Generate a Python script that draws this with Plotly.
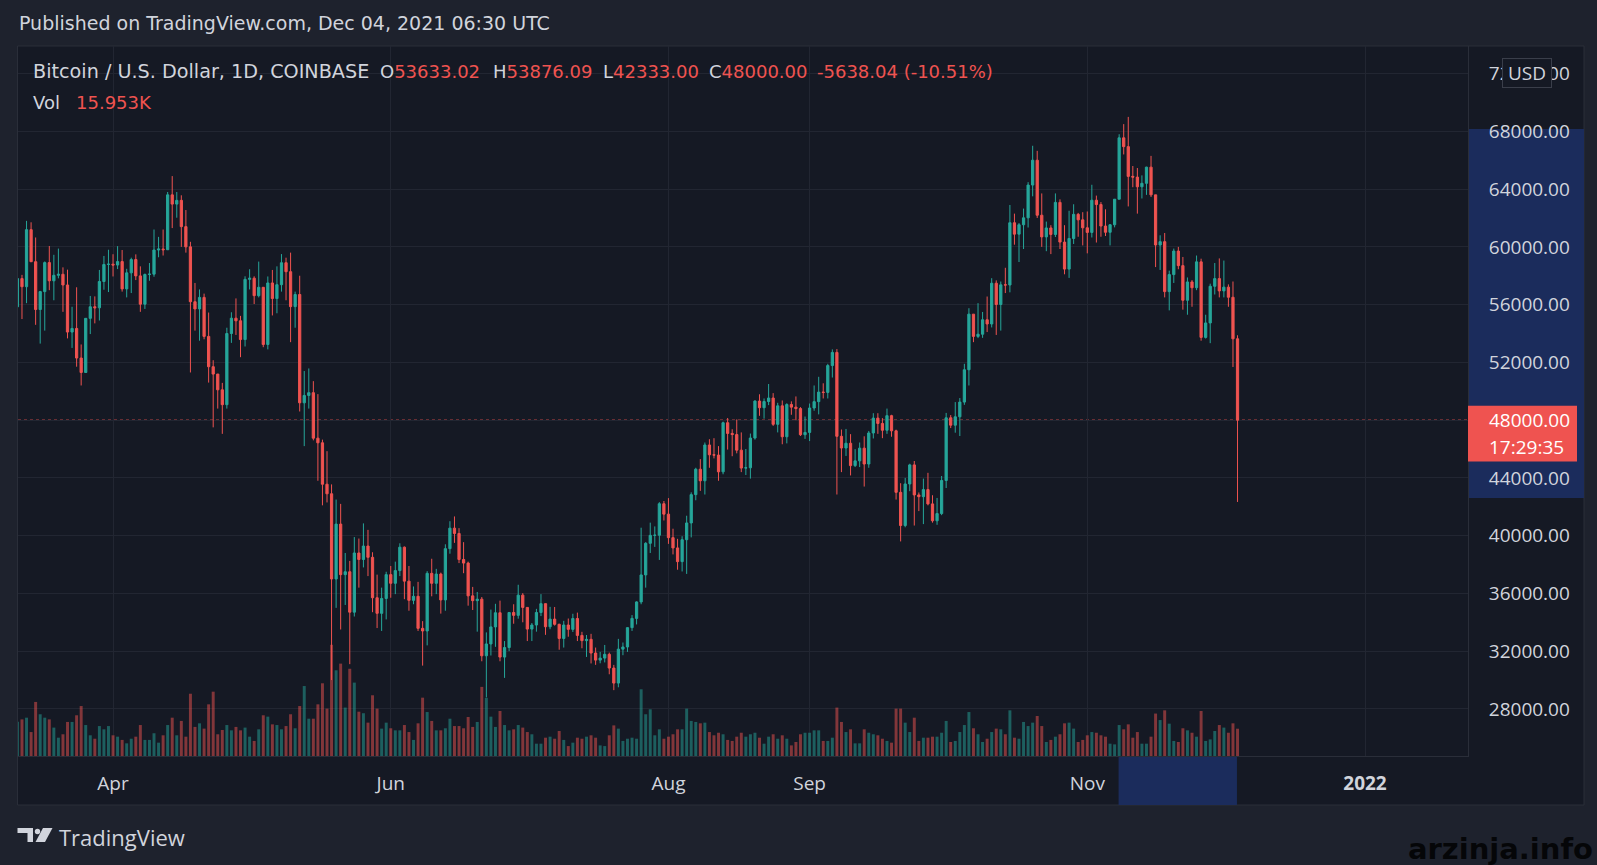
import pandas as pd
import plotly.graph_objects as go

# ---- data: BTC/USD daily (Coinbase), 11 Mar 2021 -> 04 Dec 2021 ----
dates = pd.date_range("2021-03-11", "2021-12-04", freq="D")

first_open = 55850

closes = [
    # Mar 11-31
    57800, 57240, 61190, 58970, 55660, 56900, 58910, 57650, 58030, 58100, 57360,
    54100, 54350, 52300, 51300, 55050, 55850, 55780, 57600, 58780, 58800,
    # Apr
    58740, 58980, 57090, 58200, 59120, 57990, 56030, 58090, 58110, 59780,
    59850, 59800, 63600, 62960, 63220, 61400, 60000, 56200, 55700, 56500,
    53800, 51700, 51190, 50100, 49070, 54000, 55060, 54880, 53580, 57750,
    # May
    57830, 56620, 57200, 53240, 57500, 56420, 57380, 58900, 58280, 55860,
    56700, 49200, 49710, 49900, 46750, 46430, 43560, 42900, 37000, 40800,
    37300, 37500, 34700, 38800, 38350, 39280, 38500, 35700, 34620, 35650, 37300,
    # Jun
    36700, 37580, 39200, 36850, 35520, 35800, 33580, 33400, 37390, 36700,
    37340, 35550, 39100, 40520, 40150, 38350, 38100, 35830, 35500, 35600,
    31680, 32500, 33680, 34660, 31590, 32250, 34680, 34480, 35880, 35030,
    # Jul
    33530, 33810, 34680, 35290, 33690, 34220, 33860, 32880, 33810, 33510,
    34260, 33090, 32730, 32820, 31870, 31380, 31520, 31780, 30830, 29790,
    32140, 32290, 33630, 34270, 35410, 37280, 39470, 40020, 40030, 42210, 41490,
    # Aug
    39860, 39150, 38200, 39720, 40880, 42840, 44600, 43800, 46280, 45600,
    45580, 44420, 47820, 47080, 47000, 45920, 44680, 44700, 46760, 49320,
    48860, 49290, 49530, 47710, 48990, 46850, 49080, 48900, 48800, 46990, 47150,
    # Sep
    48840, 49280, 49940, 49920, 51780, 52690, 46880, 46070, 46400, 44850,
    45180, 46060, 44960, 47110, 48140, 47770, 47300, 48310, 47260, 43000,
    40700, 43580, 44900, 42820, 42700, 43190, 42200, 41030, 41530, 43820,
    # Oct
    48160, 47650, 48230, 49250, 51490, 55340, 53800, 53950, 54950, 54660,
    57480, 56010, 57370, 57360, 61670, 60880, 61530, 62010, 64280, 66000,
    62190, 60690, 61310, 60860, 63080, 60330, 58460, 60580, 62250, 61870, 61320,
    # Nov
    61000, 63230, 62930, 61440, 61010, 61530, 63300, 67550, 66940, 64880,
    64830, 64160, 64400, 65520, 63600, 60130, 60360, 56900, 58080, 59710,
    58700, 56300, 57570, 57170, 58960, 53730, 54730, 57270, 57800, 56950,
    # Dec
    57210, 56510, 53633.02, 48000.00,
]

highs = [
    58150, 58060, 61800, 61700, 60650, 56950, 58990, 60060, 59450, 59880, 58580,
    58420, 55850, 57200, 53240, 55070, 56600, 56570, 58400, 59370, 59800,
    59490, 60050, 59780, 58480, 59250, 59480, 58650, 58150, 58880, 61200,
    60690, 61200, 63800, 64900, 63800, 63570, 62550, 60350, 57500, 57050,
    56760, 55450, 52150, 51200, 50580, 54400, 55470, 56430, 55220, 57960,
    58450, 57960, 58980, 57220, 57950, 58400, 58650, 59500, 59250, 59600,
    56900, 58000, 51400, 51580, 50700, 49800, 46650, 45850, 43550, 42500,
    42200, 38800, 38250, 39900, 39800, 40850, 40400, 38850, 37300, 36400, 37500,
    37900, 38200, 39470, 39250, 37900, 36480, 36800, 34080, 37540, 38400,
    37700, 37440, 39400, 41000, 41330, 40520, 39550, 38200, 36450, 36100,
    35750, 33300, 34880, 35280, 35500, 32700, 34700, 35250, 36600, 36020,
    35040, 33950, 34930, 35950, 35300, 35070, 35060, 33900, 34100, 34260,
    34590, 34670, 33340, 33120, 33200, 32250, 31950, 32430, 31900, 31050,
    32850, 32600, 33650, 34500, 35450, 40550, 39550, 40900, 40640, 42320, 42400,
    42600, 40480, 39780, 39960, 41380, 43000, 44700, 45300, 46450, 46680,
    46750, 46200, 47900, 48150, 47370, 48050, 47150, 46000, 47070, 49380,
    49790, 49500, 50500, 49870, 49200, 49360, 49170, 49300, 49640, 48900, 48250,
    49150, 50400, 51000, 50550, 51900, 52900, 52920, 47350, 47390, 47030,
    45990, 46450, 46880, 47250, 48480, 48480, 48140, 48800, 48370, 47340,
    43630, 44000, 44980, 45170, 42990, 43950, 44350, 42800, 42610, 44130,
    48500, 48350, 49250, 49530, 51900, 55750, 55350, 56100, 55490, 56560,
    57830, 57680, 57600, 58550, 62900, 62300, 61650, 62650, 64480, 67000,
    66650, 63700, 61750, 61500, 63700, 63290, 61500, 62500, 62950, 62350, 62400,
    62450, 64300, 63550, 63100, 62600, 61580, 63300, 67800, 68500, 69000,
    65600, 65460, 64950, 65550, 66300, 63600, 60800, 60960, 58350, 59880,
    60000, 59300, 57880, 57700, 59400, 59180, 55300, 57450, 58880, 59200,
    59050, 57400, 57600, 53876.09,
]

lows = [
    54270, 55000, 56100, 58950, 54600, 53300, 54200, 57000, 56300, 57820, 55500,
    53660, 53000, 51700, 50400, 51270, 53960, 54700, 54900, 57030, 56870,
    57950, 58460, 56900, 56500, 56800, 57700, 55500, 55700, 57650, 57930,
    59280, 59400, 59830, 61300, 62020, 60000, 59600, 51300, 54200, 53500,
    53600, 50600, 47500, 48800, 47050, 48800, 53350, 53900, 52360, 53100,
    57050, 56040, 56500, 53050, 52900, 55250, 55400, 56900, 56300, 53400,
    54400, 48600, 46200, 48800, 46600, 43800, 42100, 42300, 30000, 35000,
    33500, 35200, 31100, 34400, 36400, 37800, 37200, 34700, 33600, 33400, 34200,
    35700, 35950, 37200, 35600, 34800, 35250, 33400, 31000, 32400, 35800,
    35950, 34600, 34800, 38750, 39500, 38100, 37400, 35150, 34850, 33350,
    31300, 28800, 31700, 32300, 31300, 30150, 32000, 33900, 34250, 34000,
    32700, 32700, 33350, 34430, 33130, 33520, 33770, 32100, 32250, 33000,
    33330, 32700, 32200, 31600, 31150, 31050, 31160, 31220, 30400, 29300,
    29500, 31720, 31950, 33400, 33850, 35250, 36400, 38800, 39220, 38320, 41050,
    39430, 38700, 37640, 37520, 37350, 39880, 42450, 43100, 42850, 44700,
    45350, 43800, 44250, 45960, 45500, 45700, 44400, 44200, 43950, 46650,
    48300, 48100, 49040, 47600, 47150, 46330, 46390, 48370, 48000, 46900, 46700,
    46550, 48650, 48400, 49500, 49500, 50950, 42850, 44400, 45520, 44170,
    44750, 44750, 43400, 44700, 46730, 47050, 46750, 47050, 46850, 42500,
    39600, 40580, 43080, 40700, 41700, 40800, 42100, 40900, 40750, 41420,
    43300, 47450, 47130, 46900, 49060, 50400, 53400, 53680, 53700, 54100,
    54420, 53900, 54200, 56800, 56850, 60150, 58950, 59850, 61340, 63500,
    62000, 60000, 59700, 59500, 60680, 59850, 58100, 57850, 60200, 60700, 60100,
    59550, 60650, 60300, 60700, 60750, 60100, 61350, 63300, 66400, 62800,
    64130, 62300, 63350, 63600, 63450, 58600, 58400, 56500, 55600, 57500,
    58450, 55650, 55300, 55850, 57000, 53500, 53650, 53330, 56700, 56500,
    56500, 55850, 51680, 42333.00,
]

# volume in thousands of BTC
volume_k = [
    20.0, 21.4, 22.4, 14.0, 31.6, 24.4, 22.4, 21.4, 16.6, 10.7, 12.7,
    19.9, 19.9, 23.8, 29.2, 18.1, 12.1, 10.1, 17.5, 15.6, 17.5,
    12.1, 11.3, 9.4, 7.4, 10.1, 11.3, 18.1, 9.4, 9.4, 13.3,
    7.8, 12.1, 18.1, 22.4, 12.1, 20.5, 11.3, 36.4, 17.0, 19.1,
    16.0, 30.2, 37.6, 12.7, 15.2, 18.1, 15.0, 17.0, 15.0, 16.6,
    11.3, 8.8, 15.6, 23.8, 23.0, 18.5, 18.1, 15.6, 17.5, 24.4,
    16.2, 29.2, 40.9, 21.8, 21.8, 30.2, 42.5, 27.7, 65.0, 50.1,
    54.0, 28.3, 51.0, 42.9, 25.9, 25.0, 19.5, 35.5, 27.7, 16.0, 19.5,
    16.2, 15.0, 15.0, 18.1, 14.0, 9.4, 19.1, 34.1, 25.7, 20.5,
    15.0, 15.0, 16.2, 21.8, 17.5, 17.5, 16.2, 22.8, 17.0, 19.9,
    40.4, 34.0, 23.0, 17.0, 26.3, 18.1, 15.0, 15.6, 18.1, 16.6,
    14.0, 12.7, 7.2, 7.2, 10.7, 11.3, 10.1, 14.6, 9.4, 5.8,
    7.8, 10.7, 10.1, 11.3, 12.1, 10.7, 6.2, 5.8, 12.1, 17.9,
    16.0, 8.8, 10.1, 10.7, 10.1, 39.0, 24.4, 27.3, 12.1, 15.6, 10.1,
    11.3, 12.7, 15.6, 15.6, 27.7, 20.5, 19.9, 19.1, 19.5, 14.0,
    12.1, 13.6, 12.7, 9.4, 8.8, 11.3, 13.6, 11.3, 12.7, 13.6,
    10.7, 7.2, 11.3, 12.7, 10.1, 12.1, 10.1, 6.2, 8.2, 12.7, 13.6,
    13.6, 15.0, 15.0, 8.8, 8.8, 10.7, 28.3, 19.9, 14.0, 15.6,
    7.4, 7.4, 15.6, 13.6, 12.7, 12.1, 10.1, 8.8, 7.8, 27.7,
    27.7, 19.5, 14.0, 22.4, 8.8, 10.7, 10.7, 11.3, 11.3, 13.6,
    20.5, 8.2, 8.8, 14.0, 18.1, 25.7, 16.2, 12.7, 8.2, 10.1,
    14.0, 16.0, 15.6, 12.7, 26.7, 10.7, 10.1, 19.9, 17.5, 19.5,
    23.4, 17.5, 8.2, 9.4, 11.3, 12.7, 19.1, 19.5, 16.0, 8.2, 9.4,
    12.1, 14.0, 13.6, 12.1, 11.3, 7.2, 6.8, 18.1, 15.6, 18.5,
    10.7, 14.0, 7.2, 7.2, 11.3, 24.8, 21.0, 26.7, 18.9, 8.8,
    8.2, 16.2, 15.0, 13.6, 11.3, 26.3, 8.8, 9.7, 14.6, 18.1,
    16.6, 13.6, 19.1, 15.953,
]

opens = [first_open] + closes[:-1]

x_ticks = ["2021-04-01", "2021-06-01", "2021-08-01", "2021-09-01", "2021-11-01", "2022-01-01"]
x_labels = ["Apr", "Jun", "Aug", "Sep", "Nov", "<b>2022</b>"]
price_ticks = list(range(28000, 76000, 4000))

# ---- style ----
OUTER = "#1e222d"
PANE = "#151924"
GRID = "#222632"
BORDER = "#2a2e39"
TXT = "#b2b5be"
TXT_HI = "#d1d4dc"
UP = "#26a69a"
DOWN = "#ef5350"
SEL = "#1b2c5c"
FONT = "Open Sans"
HEAD_FONT = "DejaVu Sans"

W, H = 1597, 865
L, R, T, B = 18, 1468, 46, 756


def px(x):
    return (x - L) / (R - L)


def py(y):
    return (B - y) / (B - T)


vol_colors = ["rgba(38,166,154,0.5)" if c >= o else "rgba(239,83,80,0.5)"
              for o, c in zip(opens, closes)]

fig = go.Figure()
fig.add_trace(go.Bar(x=dates, y=volume_k, marker=dict(color=vol_colors, line=dict(width=0)),
                     yaxis="y", hoverinfo="skip"))
fig.add_trace(go.Candlestick(
    x=dates, open=opens, high=highs, low=lows, close=closes, yaxis="y2",
    increasing=dict(line=dict(color=UP, width=1), fillcolor=UP),
    decreasing=dict(line=dict(color=DOWN, width=1), fillcolor=DOWN),
    whiskerwidth=0, hoverinfo="skip"))

shapes = [
    # chart frame
    dict(type="rect", xref="paper", yref="paper", x0=px(17.5), x1=px(1584), y0=py(805), y1=py(T),
         fillcolor=PANE, line=dict(color=BORDER, width=1), layer="below"),
    # price scale selection
    dict(type="rect", xref="paper", yref="y2", x0=1, x1=px(1584), y0=42610, y1=68170,
         fillcolor=SEL, line=dict(width=0), layer="below"),
    # time scale selection
    dict(type="rect", xref="x", yref="paper", x0="2021-11-07 21:00", x1="2021-12-03 21:00",
         y0=py(805), y1=py(B + 0.5), fillcolor=SEL, line=dict(width=0), layer="below"),
    # last price line
    dict(type="line", xref="paper", yref="y2", x0=0, x1=1, y0=48000, y1=48000,
         line=dict(color=DOWN, width=1, dash="dot"), layer="below"),
    # last price label box
    dict(type="rect", xref="paper", yref="y2", x0=1, x1=px(1577), y0=45130, y1=49000,
         fillcolor=DOWN, line=dict(width=0), layer="above"),
    # TradingView logo
    dict(type="path", xref="paper", yref="paper",
         path="M {},{} L {},{} L {},{} L {},{} L {},{} L {},{} Z".format(
             px(17.5), py(828), px(33), py(828), px(33), py(842), px(27.5), py(842),
             px(27.5), py(833), px(17.5), py(833)),
         fillcolor=TXT_HI, line=dict(width=0)),
    dict(type="circle", xref="paper", yref="paper", x0=px(34.8), x1=px(40.2), y0=py(834.2), y1=py(828.8),
         fillcolor=TXT_HI, line=dict(width=0)),
    dict(type="path", xref="paper", yref="paper",
         path="M {},{} L {},{} L {},{} L {},{} Z".format(
             px(43), py(828), px(52.5), py(828), px(45), py(842), px(35.5), py(842)),
         fillcolor=TXT_HI, line=dict(width=0)),
]


def note(text, x, y, color=TXT, size=18.5, anchor="left", yref="paper", family=FONT, **kw):
    return dict(text=text, x=x, y=y, xref="paper", yref=yref, xanchor=anchor, yanchor="middle",
                showarrow=False, font=dict(family=family, size=size, color=color), **kw)


red = "<span style='color:%s'>%s</span>"
annotations = [
    note("Published on TradingView.com, Dec 04, 2021 06:30 UTC", px(17), py(23.5), TXT_HI,
         size=19, family=HEAD_FONT),
    note("Bitcoin / U.S. Dollar, 1D, COINBASE", px(31), py(72), TXT_HI, size=19.2, family=HEAD_FONT),
    note("O" + red % (DOWN, "53633.02"), px(378), py(72), TXT_HI, size=18, family=HEAD_FONT),
    note("H" + red % (DOWN, "53876.09"), px(491), py(72), TXT_HI, size=18, family=HEAD_FONT),
    note("L" + red % (DOWN, "42333.00"), px(601), py(72), TXT_HI, size=18, family=HEAD_FONT),
    note("C" + red % (DOWN, "48000.00"), px(707), py(72), TXT_HI, size=18, family=HEAD_FONT),
    note("-5638.04 (-10.51%)", px(815), py(72), DOWN, size=18, family=HEAD_FONT),
    note("Vol", px(31), py(102), TXT_HI, size=18, family=HEAD_FONT),
    note("15.953K", px(74), py(102), DOWN, size=18, family=HEAD_FONT),
    note("USD", px(1526.5), py(73.5), TXT_HI, size=19, anchor="center",
         bgcolor=PANE, bordercolor="#3a3e4a", borderwidth=1, borderpad=2, width=44, height=24),
    note("48000.00", px(1487), 48000, "#ffffff", size=19, yref="y2"),
    note("17:29:35", px(1487), 46120, "#ffffff", size=19, yref="y2"),
    note("TradingView", px(57), py(836.5), TXT_HI, size=22),
    dict(text="arzinja.info", x=px(1595), y=py(849), xref="paper", yref="paper",
         xanchor="right", yanchor="middle", showarrow=False,
         font=dict(family="DejaVu Sans", size=29, color="#050608", weight="bold")),
]

fig.update_layout(
    width=W, height=H,
    margin=dict(l=L, r=W - R, t=T, b=H - B),
    paper_bgcolor=OUTER, plot_bgcolor=PANE,
    showlegend=False, hovermode=False, bargap=0.35, boxgap=0.3,
    font=dict(family=FONT, color=TXT),
    xaxis=dict(range=["2021-03-11 03:00", "2022-01-23 15:00"], type="date",
               tickvals=x_ticks, ticktext=x_labels, showgrid=True, gridcolor=GRID,
               showline=True, linecolor=BORDER, linewidth=1, ticks="", zeroline=False,
               tickfont=dict(size=19, color=TXT_HI), ticklabelstandoff=10,
               rangeslider=dict(visible=False), fixedrange=True),
    yaxis=dict(range=[0, 415], visible=False, fixedrange=True),
    yaxis2=dict(overlaying="y", side="right", range=[24740, 73910], tickvals=price_ticks,
                tickformat=".2f", showgrid=True, gridcolor=GRID, zeroline=False,
                showline=True, linecolor=BORDER, linewidth=1, ticks="",
                tickfont=dict(size=19, color=TXT_HI), ticklabelstandoff=16, fixedrange=True),
    shapes=shapes,
    annotations=annotations,
)

fig.write_html("out.html", config={"displayModeBar": False},
               post_script="document.body.style.margin='0px';")
